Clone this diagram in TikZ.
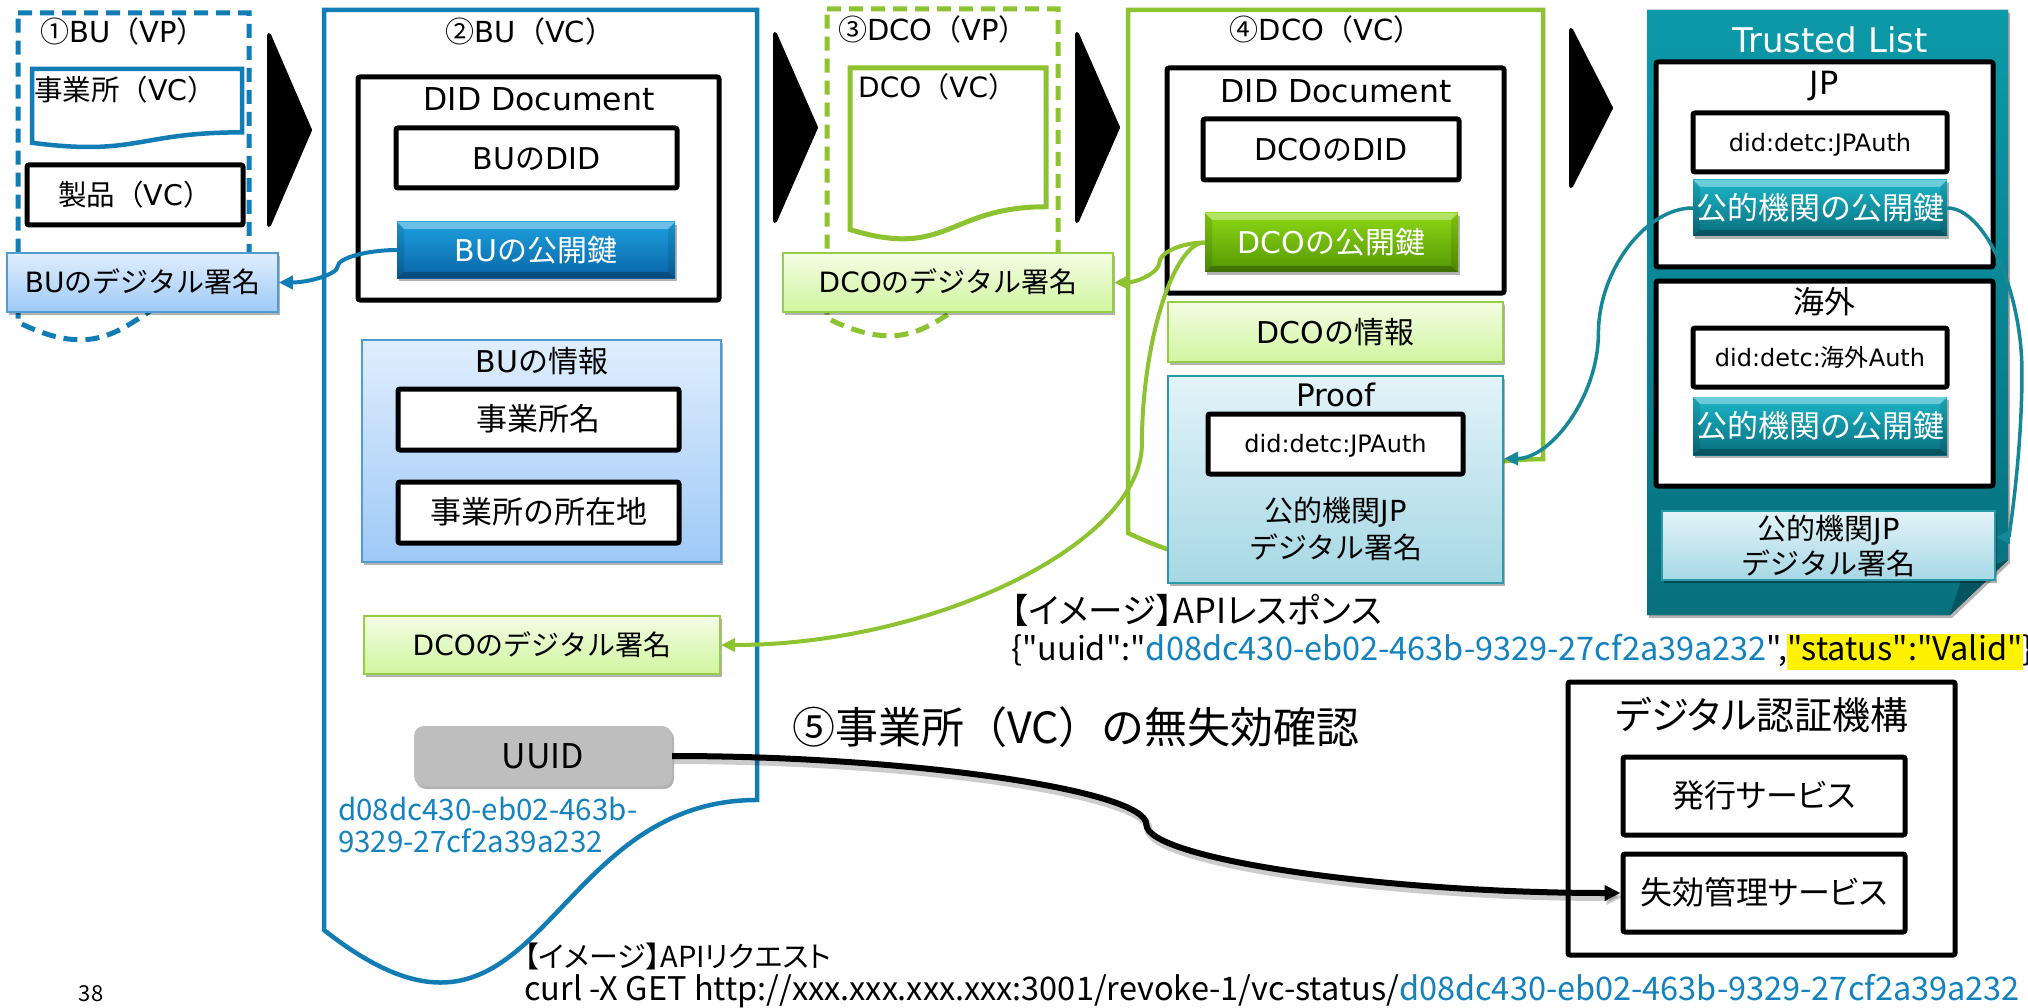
\documentclass[tikz,border=0pt]{standalone}
\usepackage{fontspec}
\usetikzlibrary{arrows.meta,calc,shadows}

\setmainfont{DejaVu Sans}
\newfontfamily\jpfont{Noto Sans CJK JP}
\newfontfamily\latfont{DejaVu Sans}
\newfontfamily\uifamily[RawFeature=+palt]{Noto Sans CJK JP}
\newfontfamily\uifwfamily{Noto Sans CJK JP}
\newcommand\uifont{\XeTeXinterchartokenstate=0 \uifamily}
\newcommand\uifwfont{\XeTeXinterchartokenstate=0 \uifwfamily}

% switch to the Japanese font for CJK characters automatically
\XeTeXinterchartokenstate=1
\newXeTeXintercharclass\JPclass
\newcount\jpcode
\newcommand\jprange[2]{%
  \jpcode=#1\relax
  \loop
    \XeTeXcharclass\jpcode=\JPclass
  \ifnum\jpcode<#2\relax
    \advance\jpcode by 1
  \repeat}
\jprange{"2460}{"24FF}
\jprange{"3000}{"9FFF}
\jprange{"FF00}{"FFEF}
\XeTeXinterchartoks 0 \JPclass = {\jpfont}
\XeTeXinterchartoks 4095 \JPclass = {\jpfont}
\XeTeXinterchartoks \JPclass 0 = {\latfont}
\XeTeXinterchartoks \JPclass 4095 = {\latfont}

\definecolor{bublue}{RGB}{18,124,180}
\definecolor{uuidblue}{RGB}{20,130,190}
\definecolor{dcogreen}{RGB}{141,195,48}
\definecolor{tealline}{RGB}{22,135,150}
\definecolor{tltop}{RGB}{12,153,168}
\definecolor{tlbot}{RGB}{8,112,126}
\definecolor{bpTop}{RGB}{224,238,253}
\definecolor{bpBot}{RGB}{158,201,247}
\definecolor{bpEdge}{RGB}{80,155,210}
\definecolor{gpTop}{RGB}{243,253,229}
\definecolor{gpBot}{RGB}{208,245,158}
\definecolor{gpEdge}{RGB}{150,205,70}
\definecolor{cpTop}{RGB}{227,243,249}
\definecolor{cpBot}{RGB}{166,216,228}
\definecolor{cpEdge}{RGB}{40,155,170}
\definecolor{bkTop}{RGB}{30,160,222}
\definecolor{bkBot}{RGB}{8,100,165}
\definecolor{gkTop}{RGB}{140,215,20}
\definecolor{gkBot}{RGB}{85,150,5}
\definecolor{tkTop}{RGB}{28,182,202}
\definecolor{tkBot}{RGB}{8,110,125}
\definecolor{uuidgray}{RGB}{190,190,190}

% PowerPoint-style document shape: style, left, top, width, height
\newcommand\docshape[5]{\draw[#1] (#2,#3) -- ({#2+#4},#3) -- ({#2+#4},{#3+0.802*#5})
  .. controls ({#2+0.5*#4},{#3+0.802*#5}) and ({#2+0.5*#4},{#3+1.1075*#5}) .. (#2,{#3+0.934*#5}) -- cycle;}
% black step chevron: left, top, tip x, bottom
\newcommand\chevron[4]{\fill[black, draw=black, line width=4, line join=round]
  (#1,#2) -- (#3,{0.5*(#2+#4)}) -- (#1,#4) -- cycle;}
% curved connector (horizontal - vertical - horizontal): style, from, to, bend position
\newcommand\cconn[4]{\draw[#1] let \p1=(#2), \p2=(#3) in
  (\p1) .. controls ({\x1+0.5*#4*(\x2-\x1)},\y1) and ({\x1+#4*(\x2-\x1)},{0.75*\y1+0.25*\y2})
  .. ({\x1+#4*(\x2-\x1)},{0.5*(\y1+\y2)})
  .. controls ({\x1+#4*(\x2-\x1)},{0.25*\y1+0.75*\y2}) and ({\x1+0.5*(1+#4)*(\x2-\x1)},\y2) .. (\p2);}

\tikzset{
  fs/.style={font={\fontsize{#1}{#1}\selectfont}, text height={0.86*#1}, text depth={0.12*#1}},
  uifs/.style={font={\uifont\fontsize{#1}{#1}\selectfont}, text height={0.86*#1}, text depth={0.12*#1}},
  lbl/.style={inner sep=0, fs=#1},
  lbl/.default=29,
  ml/.style 2 args={inner sep=0, align=center, font={\fontsize{#1}{#2}\selectfont}, text height=, text depth=},
  sunken/.style={drop shadow={shadow xshift=2pt, shadow yshift=-3pt, opacity=.3, fill=black}},
  blackbox/.style={draw=black, line width=5, fill=white, rounded corners=2, inner sep=0, fs=30},
  bluepanel/.style={draw=bpEdge, line width=1.5, top color=bpTop, bottom color=bpBot, inner sep=0, fs=28, sunken},
  greenpanel/.style={draw=gpEdge, line width=2, top color=gpTop, bottom color=gpBot, inner sep=0, fs=28, sunken},
  cyanpanel/.style={draw=cpEdge, line width=2, top color=cpTop, bottom color=cpBot, inner sep=0, fs=28, sunken},
  keybtn/.style 2 args={draw=none, top color=#1, bottom color=#2, text=white, inner sep=0, fs=30, sunken,
    path picture={
      \fill[white, opacity=.35] (path picture bounding box.north west) -- (path picture bounding box.north east)
        -- ([shift={(-7pt,-7pt)}]path picture bounding box.north east) -- ([shift={(7pt,-7pt)}]path picture bounding box.north west) -- cycle;
      \fill[black, opacity=.25] (path picture bounding box.south west) -- (path picture bounding box.south east)
        -- ([shift={(-7pt,6pt)}]path picture bounding box.south east) -- ([shift={(7pt,6pt)}]path picture bounding box.south west) -- cycle;
      \fill[black, opacity=.1] (path picture bounding box.north west) -- ([shift={(7pt,-7pt)}]path picture bounding box.north west)
        -- ([shift={(7pt,6pt)}]path picture bounding box.south west) -- (path picture bounding box.south west) -- cycle;
      \fill[black, opacity=.1] (path picture bounding box.north east) -- ([shift={(-7pt,-7pt)}]path picture bounding box.north east)
        -- ([shift={(-7pt,6pt)}]path picture bounding box.south east) -- (path picture bounding box.south east) -- cycle;
    }},
  uuidbox/.style={fill=uuidgray, rounded corners=10, inner sep=0, uifs=34, sunken},
  conn/.style={line width=4, -{Triangle[length=14pt,width=13pt]}},
}

\begin{document}
\begin{tikzpicture}[x=1pt, y=-1pt]
\useasboundingbox (0,0) rectangle (2028,1008);
\fill[white] (0,0) rectangle (2028,1008);

% ---- containers ----
\docshape{bublue, line width=5, dash pattern=on 14pt off 8pt}{18}{13}{231}{331}
\docshape{bublue, line width=4.5}{324}{10}{433}{985}
\docshape{dcogreen, line width=5, dash pattern=on 14pt off 8pt}{827}{9}{231}{331}
\docshape{dcogreen, line width=4.5}{1128}{10}{415}{560}
\docshape{bublue, line width=4.5}{32}{69}{210}{79}
\docshape{dcogreen, line width=5}{850}{68}{196}{173}

% ---- step chevrons ----
\chevron{269}{35}{310}{225}
\chevron{775}{34}{816}{221}
\chevron{1077}{34}{1118}{221}
\chevron{1571}{30}{1611}{186}

% ---- (1) BU VP ----
\node[lbl] (t1) at (123,32) {①BU（VP）};
\node[lbl=28.5, anchor=west] (vc1) at (34,90) {事業所（VC）};
\node[blackbox, fs=28.5, minimum width=216, minimum height=60] (prod) at (135,195) {製品（VC）};
\node[bluepanel, minimum width=271, minimum height=59] (busig) at (142.5,282.5) {BUのデジタル署名};

% ---- (2) BU VC ----
\node[lbl] (t2) at (530,32) {②BU（VC）};
\node[blackbox, minimum width=361, minimum height=223] (budoc) at (538.5,188.5) {};
\node[lbl=31.5] (budoct) at (539,99) {DID Document};
\node[blackbox, minimum width=281, minimum height=60] (budid) at (536.5,158) {BUのDID};
\node[keybtn={bkTop}{bkBot}, minimum width=278, minimum height=56] (bukey) at (536,250) {BUの公開鍵};
\node[bluepanel, minimum width=359, minimum height=222] (buinfo) at (541.5,451) {};
\node[lbl=30] (buinfot) at (542,361) {BUの情報};
\node[blackbox, fs=31, minimum width=281, minimum height=61] (jname) at (538.5,419.5) {事業所名};
\node[blackbox, fs=31, minimum width=281, minimum height=61] (jaddr) at (538.5,512.5) {事業所の所在地};
\node[greenpanel, minimum width=356, minimum height=58] (dcosig2) at (542,645) {DCOのデジタル署名};
\node[uuidbox, minimum width=258, minimum height=60] (uuid) at (543,756) {UUID};
\node[uifs=29.5, inner sep=0, anchor=west, text=uuidblue] (uuidv1) at (338,810) {d08dc430-eb02-463b-};
\node[uifs=29.5, inner sep=0, anchor=west, text=uuidblue] (uuidv2) at (338,842) {9329-27cf2a39a232};

% ---- (3) DCO VP ----
\node[lbl] (t3) at (933,30) {③DCO（VP）};
\node[lbl=28, anchor=west] (vc3) at (858,87) {DCO（VC）};
\node[greenpanel, minimum width=330, minimum height=59] (dcosig1) at (948,282.5) {DCOのデジタル署名};

% ---- (4) DCO VC ----
\node[lbl] (t4) at (1326,30) {④DCO（VC）};
\node[blackbox, minimum width=337, minimum height=225] (dcodoc) at (1335.5,180.5) {};
\node[lbl=31.5] (dcodoct) at (1336,91) {DID Document};
\node[blackbox, minimum width=256, minimum height=61] (dcodid) at (1331,149.5) {DCOのDID};
\node[keybtn={gkTop}{gkBot}, minimum width=253, minimum height=59] (dcokey) at (1331.5,242.5) {DCOの公開鍵};
\node[greenpanel, fs=30, minimum width=335, minimum height=60] (dcoinfo) at (1335.5,332) {DCOの情報};
\node[cyanpanel, minimum width=335, minimum height=207] (proof) at (1335.5,479.5) {};
\node[lbl=31] (prooft) at (1336,395) {Proof};
\node[blackbox, fs=24, minimum width=255, minimum height=60] (proofdid) at (1335.5,444) {did:detc:JPAuth};
\node[ml={29}{37}] (proofsig) at (1336,529) {公的機関JP\\デジタル署名};

% ---- Trusted List ----
\fill[top color=tltop, bottom color=tlbot, sunken] (1647,10) -- (2008,10) -- (2008,560) -- (1950,615) -- (1647,615) -- cycle;
\fill[tlbot!75!black] (1950,615) -- (1963,574) -- (2008,560) -- cycle;
\node[fs=34, inner sep=0, text=white] (tlt) at (1830,40) {Trusted List};
\node[blackbox, minimum width=337, minimum height=205] (jpbox) at (1824.5,164.5) {};
\node[lbl=32] (jpt) at (1824,83) {JP};
\node[blackbox, fs=24, minimum width=254, minimum height=59] (jpdid) at (1820,142.5) {did:detc:JPAuth};
\node[keybtn={tkTop}{tkBot}, fs=31, minimum width=254, minimum height=56] (jpkey) at (1820,208) {公的機関の公開鍵};
\node[blackbox, minimum width=337, minimum height=205] (osbox) at (1824.5,383.5) {};
\node[lbl=31] (ost) at (1824,302) {海外};
\node[blackbox, fs=24, minimum width=254, minimum height=59] (osdid) at (1820,357.5) {did:detc:海外Auth};
\node[keybtn={tkTop}{tkBot}, fs=31, minimum width=254, minimum height=58] (oskey) at (1820,426) {公的機関の公開鍵};
\node[cyanpanel, ml={29}{35}, line width=1.5, minimum width=333, minimum height=69] (tlsig) at (1828.5,545.5) {公的機関JP\\デジタル署名};

% ---- API response ----
\node[uifs=34.5, inner sep=0, anchor=west] (resp) at (1011,611) {【イメージ】APIレスポンス};
\node[uifs=32.5, inner sep=0, anchor=west] (json) at (1011,648) {\setlength\fboxsep{0pt}\{"uuid":"\textcolor{uuidblue}{d08dc430-eb02-463b-9329-27cf2a39a232}",\colorbox{yellow}{\strut"status":"Valid"}\}};

% ---- step 5 ----
\node[font={\uifwfont\fontsize{43}{43}\selectfont}, text height=37, text depth=5, inner sep=0, anchor=west] (step5) at (792,727) {⑤事業所（VC）の無失効確認};

% ---- certification body ----
\node[blackbox, minimum width=387, minimum height=273] (auth) at (1761.5,818.5) {};
\node[uifs=38, inner sep=0] (autht) at (1762,715) {デジタル認証機構};
\node[blackbox, uifs=32, minimum width=282, minimum height=78] (issue) at (1764,796) {発行サービス};
\node[blackbox, uifs=32, minimum width=282, minimum height=78] (revoke) at (1764,893) {失効管理サービス};

% ---- API request ----
\node[uifs=29, inner sep=0, anchor=west] (reqt) at (524,957) {【イメージ】APIリクエスト};
\node[uifs=32.5, inner sep=0, anchor=west] (curl) at (524,988) {curl -X GET http://xxx.xxx.xxx.xxx:3001/revoke-1/vc-status/\textcolor{uuidblue}{d08dc430-eb02-463b-9329-27cf2a39a232}};

\node[uifs=22, inner sep=0] (pg) at (91,993) {38};

% ---- connectors ----
\cconn{bublue, conn}{bukey.west}{busig.east}{0.5}
\cconn{dcogreen, conn}{dcokey.west}{dcosig1.east}{0.5}
\cconn{dcogreen, conn}{dcokey.west}{dcosig2.east}{0.13}
\cconn{tealline, conn, line width=3.5}{jpkey.west}{$(proof.north east)!0.4!(proof.south east)$}{0.5}
\cconn{tealline, conn, line width=3.5}{jpkey.east}{$(tlsig.north east)!0.38!(tlsig.south east)$}{1.54}
\begin{scope}[transform canvas={xshift=2pt, yshift=-4pt}]
\cconn{black, opacity=.2, line width=8, -{Triangle[length=16pt,width=15pt]}}{uuid.east}{revoke.west}{0.5}
\end{scope}
\cconn{black, line width=6, -{Triangle[length=16pt,width=15pt]}}{uuid.east}{revoke.west}{0.5}
\end{tikzpicture}
\end{document}
